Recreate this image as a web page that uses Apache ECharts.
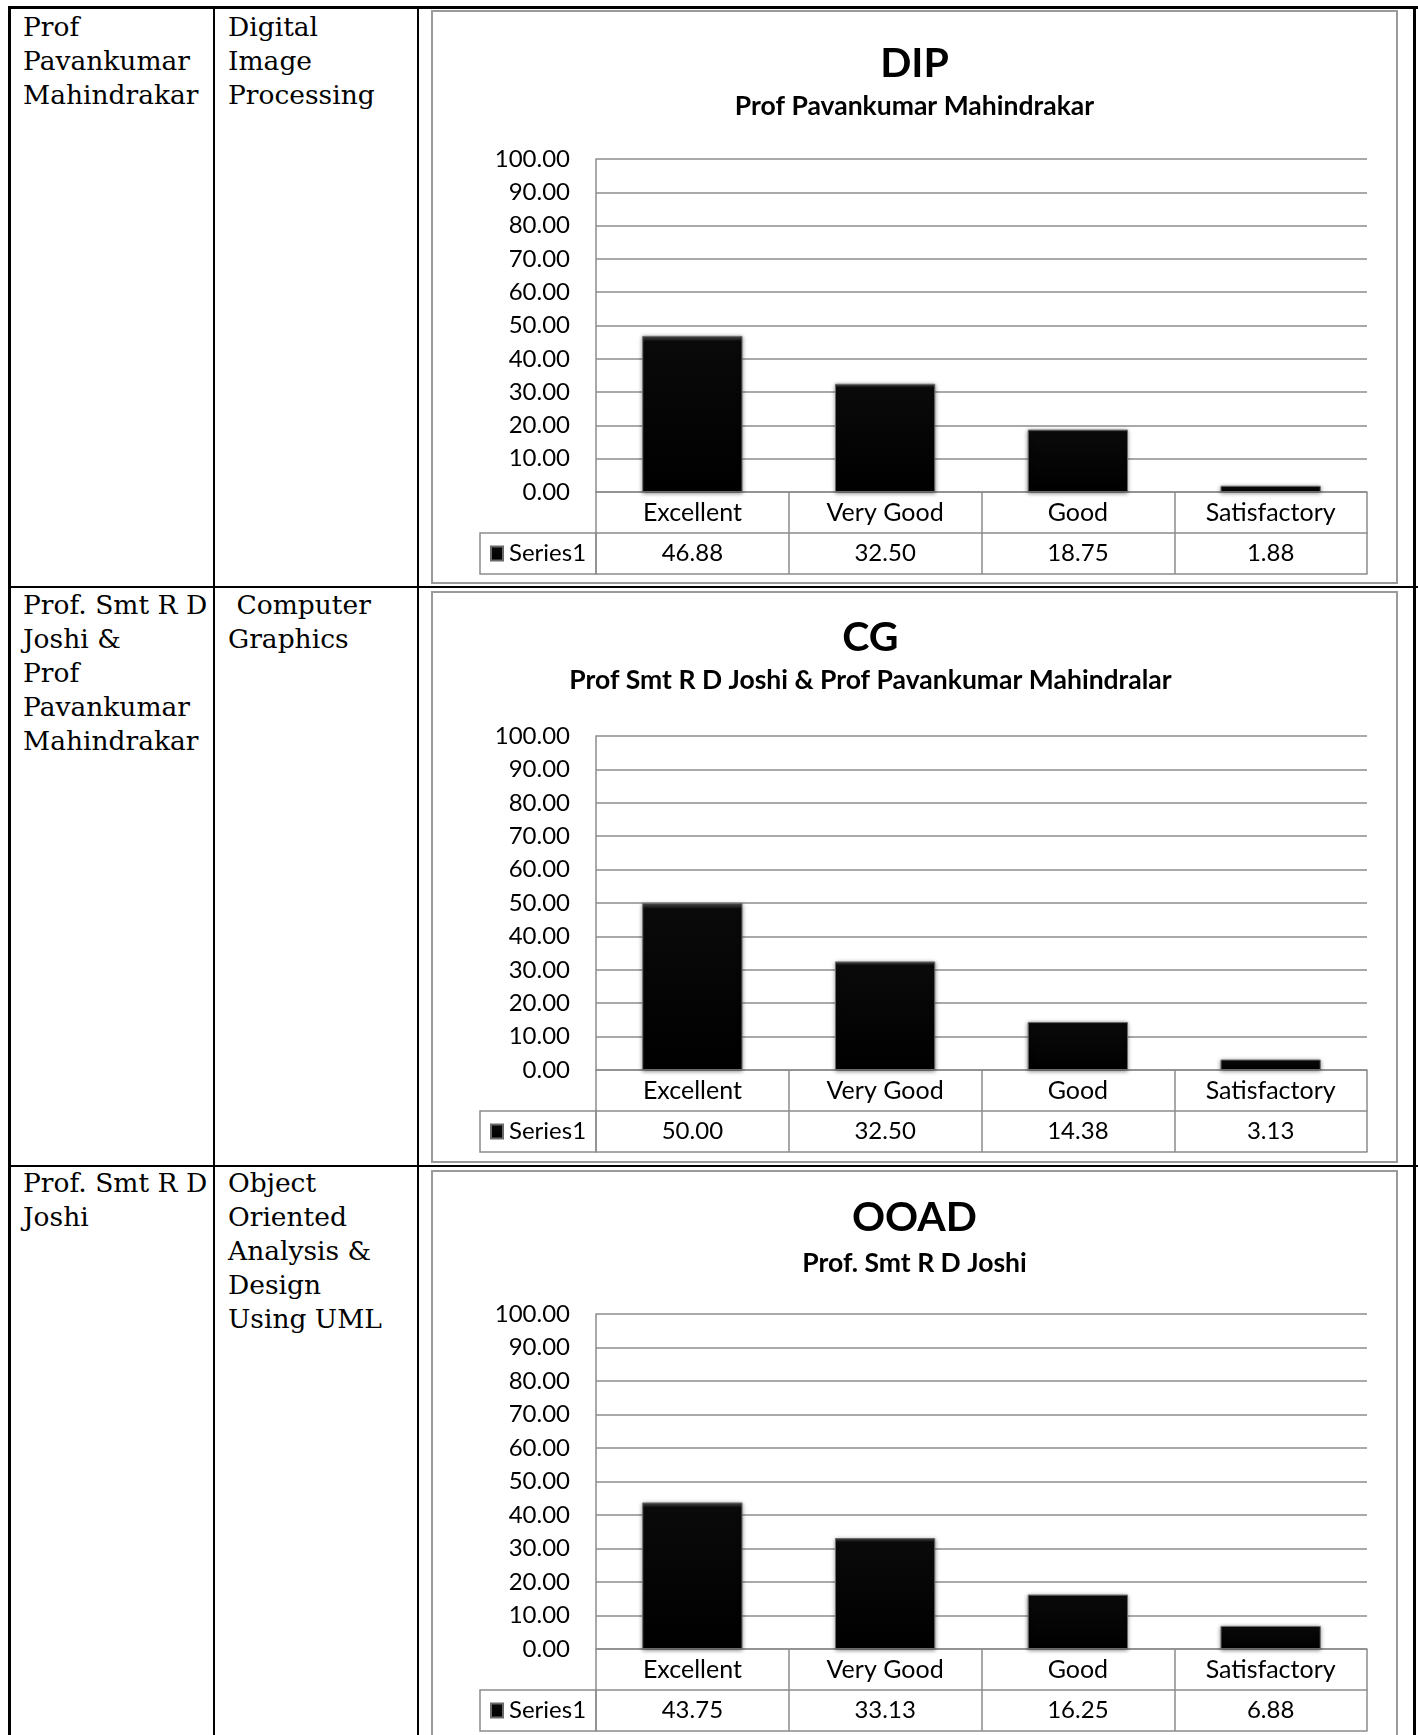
<!DOCTYPE html>
<html>
<head>
<meta charset="utf-8">
<script src="https://cdn.jsdelivr.net/npm/echarts@6/dist/echarts.min.js"></script>
<style>
  html, body { margin:0; padding:0; background:#fff; }
  body { width:1418px; height:1735px; position:relative; overflow:hidden; }
  .ln { position:absolute; background:#000; }
  .cell { position:absolute; font-family:"DejaVu Serif", serif; font-size:26.5px; line-height:34px; color:#000; white-space:nowrap; }
  .frame { position:absolute; left:431px; width:967px; border:2px solid #9a9a9a; box-sizing:border-box; background:#fff; }
</style>
</head>
<body>
<!-- document table lines -->
<div class="ln" style="left:8px; top:6px; width:1410px; height:3px;"></div>
<div class="ln" style="left:8px; top:6px; width:3px; height:1729px;"></div>
<div class="ln" style="left:1413px; top:6px; width:3px; height:1729px;"></div>
<div class="ln" style="left:213px; top:6px; width:2px; height:1729px;"></div>
<div class="ln" style="left:417px; top:6px; width:2px; height:1729px;"></div>
<div class="ln" style="left:8px; top:586px; width:1410px; height:2px;"></div>
<div class="ln" style="left:8px; top:1165px; width:1410px; height:2px;"></div>

<div class="cell" style="left:23px; top:10px;">Prof<br>Pavankumar<br>Mahindrakar</div>
<div class="cell" style="left:228px; top:10px;">Digital<br>Image<br>Processing</div>
<div class="cell" style="left:23px; top:588px;">Prof. Smt R D<br>Joshi &amp;<br>Prof<br>Pavankumar<br>Mahindrakar</div>
<div class="cell" style="left:228px; top:588px;">&nbsp;Computer<br>Graphics</div>
<div class="cell" style="left:23px; top:1166px;">Prof. Smt R D<br>Joshi</div>
<div class="cell" style="left:228px; top:1166px;">Object<br>Oriented<br>Analysis &amp;<br>Design<br>Using UML</div>

<div id="c1" class="frame" style="top:10px; height:574px;"></div>
<div id="c2" class="frame" style="top:591px; height:572px;"></div>
<div id="c3" class="frame" style="top:1170px; height:580px;"></div>

<script>
// ---- data ----
const categories = ['Excellent', 'Very Good', 'Good', 'Satisfactory'];
const dipValues  = [46.88, 32.50, 18.75, 1.88];
const cgValues   = [50.00, 32.50, 14.38, 3.13];
const ooadValues = [43.75, 33.13, 16.25, 6.88];
const chartTitles    = ['DIP', 'CG', 'OOAD'];
const chartSubtitles = ['Prof Pavankumar Mahindrakar',
                        'Prof Smt R D Joshi & Prof Pavankumar Mahindralar',
                        'Prof. Smt R D Joshi'];
const seriesName = 'Series1';
const yMin = 0, yMax = 100, yStep = 10;

// ---- layout (relative to each frame) ----
const layouts = [
  { titleTop: 31, subTop: 81, gridTop: 147, zero: 480, titleShift: 0 },
  { titleTop: 24, subTop: 74, gridTop: 143, zero: 477, titleShift: -44 },
  { titleTop: 25, subTop: 78, gridTop: 142, zero: 477, titleShift: 0 }
];
const allValues = [dipValues, cgValues, ooadValues];
const GRID = '#8c8c8c';
const FONT = 'Lato';
const ROW = 41;
const FRAME_INNER_W = 963;

function buildOption(i) {
  const L = layouts[i];
  const values = allValues[i];
  const cx = FRAME_INNER_W / 2 + L.titleShift;
  const catLabel = { fontFamily: FONT, fontSize: 25, color: '#000', margin: 0, lineHeight: ROW, interval: 0 };
  const valLabel = { fontFamily: FONT, fontSize: 24, color: '#000', margin: 0, lineHeight: ROW, interval: 0 };
  return {
    animation: false,
    backgroundColor: '#fff',
    title: [
      { text: chartTitles[i], left: cx, textAlign: 'center', top: L.titleTop, padding: 0,
        textStyle: { fontFamily: FONT, fontWeight: 'bold', fontSize: 41, color: '#000' } },
      { text: chartSubtitles[i], left: cx, textAlign: 'center', top: L.subTop, padding: 0,
        textStyle: { fontFamily: FONT, fontWeight: 'bold', fontSize: 26.5, color: '#000' } }
    ],
    legend: {
      data: [seriesName], left: 57, top: L.zero + ROW, padding: 0, icon: 'rect',
      itemWidth: 12, itemHeight: 14, itemGap: 4, selectedMode: false,
      textStyle: { fontFamily: FONT, fontSize: 24, color: '#000', lineHeight: ROW, padding: [0, 0, 0, 1] }
    },
    grid: { left: 163, right: 29, top: L.gridTop, height: L.zero - L.gridTop },
    xAxis: [
      { type: 'category', data: categories, position: 'bottom',
        axisLine: { lineStyle: { color: GRID, width: 1.5 } },
        axisTick: { show: true, length: ROW, interval: 0, lineStyle: { color: GRID, width: 1.5 } },
        axisLabel: catLabel },
      { type: 'category', data: values.map(v => v.toFixed(2)), position: 'bottom', offset: ROW,
        axisLine: { lineStyle: { color: GRID, width: 1.5 } },
        axisTick: { show: true, length: ROW, interval: 0, lineStyle: { color: GRID, width: 1.5 } },
        axisLabel: valLabel },
      { type: 'category', data: categories, position: 'bottom', offset: 2 * ROW,
        axisLine: { lineStyle: { color: GRID, width: 1.5 } },
        axisTick: { show: false }, axisLabel: { show: false } }
    ],
    yAxis: {
      type: 'value', min: yMin, max: yMax, interval: yStep,
      axisLine: { show: true, lineStyle: { color: GRID, width: 1.5 } },
      axisTick: { show: false },
      splitLine: { lineStyle: { color: GRID, width: 1.5 } },
      axisLabel: { formatter: v => v.toFixed(2), fontFamily: FONT, fontSize: 24, color: '#000', margin: 26 }
    },
    series: [{
      type: 'bar', name: seriesName, data: values, barWidth: '52%',
      itemStyle: {
        color: new echarts.graphic.LinearGradient(0, 0, 0, 1, [
          { offset: 0, color: '#555' }, { offset: 0.035, color: '#0a0a0a' }, { offset: 1, color: '#000' }
        ]),
        borderColor: '#6a6a6a', borderWidth: 1,
        shadowBlur: 4, shadowColor: 'rgba(0,0,0,0.45)', shadowOffsetY: 1
      }
    }],
    graphic: [{
      type: 'rect',
      shape: { x: 47, y: L.zero + ROW, width: 116, height: ROW },
      style: { fill: 'none', stroke: GRID, lineWidth: 1.5 }
    }]
  };
}

['c1', 'c2', 'c3'].forEach((id, i) => {
  const chart = echarts.init(document.getElementById(id), null, { renderer: 'canvas' });
  chart.setOption(buildOption(i));
});
</script>
</body>
</html>
